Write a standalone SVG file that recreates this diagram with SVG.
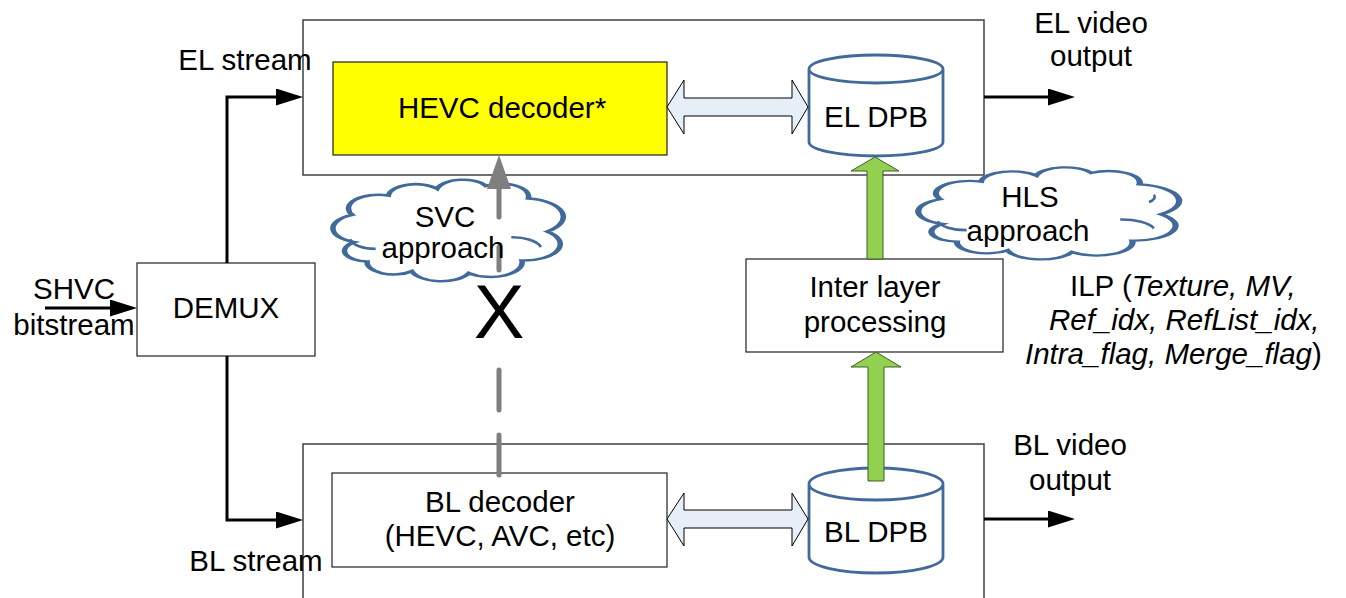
<svg xmlns="http://www.w3.org/2000/svg" width="1346" height="598" viewBox="0 0 1346 598">
<style>
text{font-family:"Liberation Sans",Arial,sans-serif;font-size:29.5px;fill:#000}
.mid{text-anchor:middle}
.frame{fill:#fff;stroke:#404040;stroke-width:1.5}
.box{fill:#fff;stroke:#202020;stroke-width:1.2}
.cyl{fill:#fff;stroke:#41699A;stroke-width:2.8}
.cloud{fill:#fff;stroke:#41699A;stroke-width:2.6}
.cloudin{fill:none;stroke:#41699A;stroke-width:2.6}
.wire{fill:none;stroke:#000;stroke-width:3}
.dbl{fill:#E6EEF8;stroke:#000;stroke-width:1}
.green{fill:#92D050;stroke:#3F5F22;stroke-width:1}
.dash{fill:none;stroke:#7F7F7F;stroke-width:5;stroke-linecap:round}
</style>
<defs>
<marker id="ah" markerUnits="userSpaceOnUse" markerWidth="28" markerHeight="18" refX="17" refY="8.5" orient="auto">
<path d="M0,0 L27,8.5 L0,17 Z" fill="#000"/>
</marker>
<path id="cloudshape" d="M6,63 A15,15 0 0 1 5,35 A14,14 0 0 1 22,15 A13,13 0 0 1 45,8 A12.5,12.5 0 0 1 68,5 A13,13 0 0 1 88,18 A19,19 0 0 1 97,52 A17,17 0 0 1 85,82 A15,15 0 0 1 60,95 A14.5,14.5 0 0 1 33,93 A12.5,12.5 0 0 1 12,83 A11,11 0 0 1 6,63 Z"/>
</defs>

<g id="el-frame"><rect class="frame" x="303" y="20" width="681" height="155"/></g>
<g id="bl-frame"><rect class="frame" x="303" y="444" width="681" height="200"/></g>

<g id="svc-cloud" transform="translate(341.7,181) scale(2.12,0.97)">
<use href="#cloudshape" class="cloud" vector-effect="non-scaling-stroke"/>
<path class="cloudin" vector-effect="non-scaling-stroke" d="M4,60 A12,12 0 0 0 16,70 M80,58 A14,14 0 0 1 94,68"/>
</g>
<g id="hls-cloud" transform="translate(928.2,168.5) scale(2.4,0.88)">
<use href="#cloudshape" class="cloud" vector-effect="non-scaling-stroke"/>
<path class="cloudin" vector-effect="non-scaling-stroke" d="M4,60 A12,12 0 0 0 16,70 M80,58 A14,14 0 0 1 94,68 M92,38 A8,8 0 0 0 94,30"/>
</g>

<g id="hevc-decoder"><rect x="333" y="62" width="334" height="93" fill="#FFFF00" stroke="#202020" stroke-width="1.2"/>
<text class="mid" x="502" y="118">HEVC decoder*</text></g>

<g id="el-dpb">
<path class="cyl" d="M809,69 A67,14 0 0 1 943,69 V142 A67,14 0 0 1 809,142 Z M809,69 A67,14 0 0 0 943,69"/>
<text class="mid" x="876" y="127">EL DPB</text></g>

<g id="demux"><rect class="box" x="137" y="263" width="178" height="93"/>
<text class="mid" x="226" y="318">DEMUX</text></g>

<g id="bl-decoder"><rect class="box" x="332" y="473" width="335" height="94"/>
<text class="mid" x="500" y="512">BL decoder</text>
<text class="mid" x="500" y="546">(HEVC, AVC, etc)</text></g>

<g id="bl-dpb">
<path class="cyl" d="M809,484 A67,16 0 0 1 943,484 V557 A67,16 0 0 1 809,557 Z M809,484 A67,16 0 0 0 943,484"/>
<text class="mid" x="876" y="542">BL DPB</text></g>

<g id="inter-layer"><rect class="box" x="746" y="259" width="257" height="93"/>
<text class="mid" x="875" y="297">Inter layer</text>
<text class="mid" x="875" y="332">processing</text></g>

<g id="connectors">
<path class="wire" d="M45,308 H127" marker-end="url(#ah)"/>
<path class="wire" d="M227,263 V97 H293" marker-end="url(#ah)"/>
<path class="wire" d="M227,356 V520 H293" marker-end="url(#ah)"/>
<path class="wire" d="M984,97 H1065" marker-end="url(#ah)"/>
<path class="wire" d="M984,519 H1065" marker-end="url(#ah)"/>
<polygon class="dbl" points="667,107 684,80 684,98 792,98 792,80 808,107 792,134 792,116 684,116 684,134"/>
<polygon class="dbl" points="667,519 684,493 684,510 792,510 792,493 808,519 792,546 792,528 684,528 684,546"/>
<polygon class="green" points="875,157 899,171 883,171 883,259 867,259 867,171 851,171"/>
<polygon class="green" points="876,352 901,367 884,367 884,481 868,481 868,367 851,367"/>
<path class="dash" d="M499,475 V435 M499,410 V370 M499,270 V247 M499,217 V186"/>
<polygon points="499,155 487,189 511,189" fill="#7F7F7F"/>
</g>

<g id="labels">
<text class="mid" x="245" y="70">EL stream</text>
<text class="mid" x="256" y="571">BL stream</text>
<text class="mid" x="74" y="299">SHVC</text>
<text class="mid" x="74" y="335">bitstream</text>
<text class="mid" x="1091" y="33">EL video</text>
<text class="mid" x="1091" y="66">output</text>
<text class="mid" x="1070" y="455">BL video</text>
<text class="mid" x="1070" y="490">output</text>
<text class="mid" x="445" y="227">SVC</text>
<text class="mid" x="443" y="258">approach</text>
<text class="mid" x="1030" y="207">HLS</text>
<text class="mid" x="1028" y="241">approach</text>
<text class="mid" x="499" y="338" style="font-size:76px">X</text>
<text x="1070" y="296">ILP (<tspan font-style="italic">Texture, MV,</tspan></text>
<text x="1049" y="330" font-style="italic">Ref_idx, RefList_idx,</text>
<text x="1025" y="364"><tspan font-style="italic">Intra_flag, Merge_flag</tspan>)</text>
</g>
</svg>
